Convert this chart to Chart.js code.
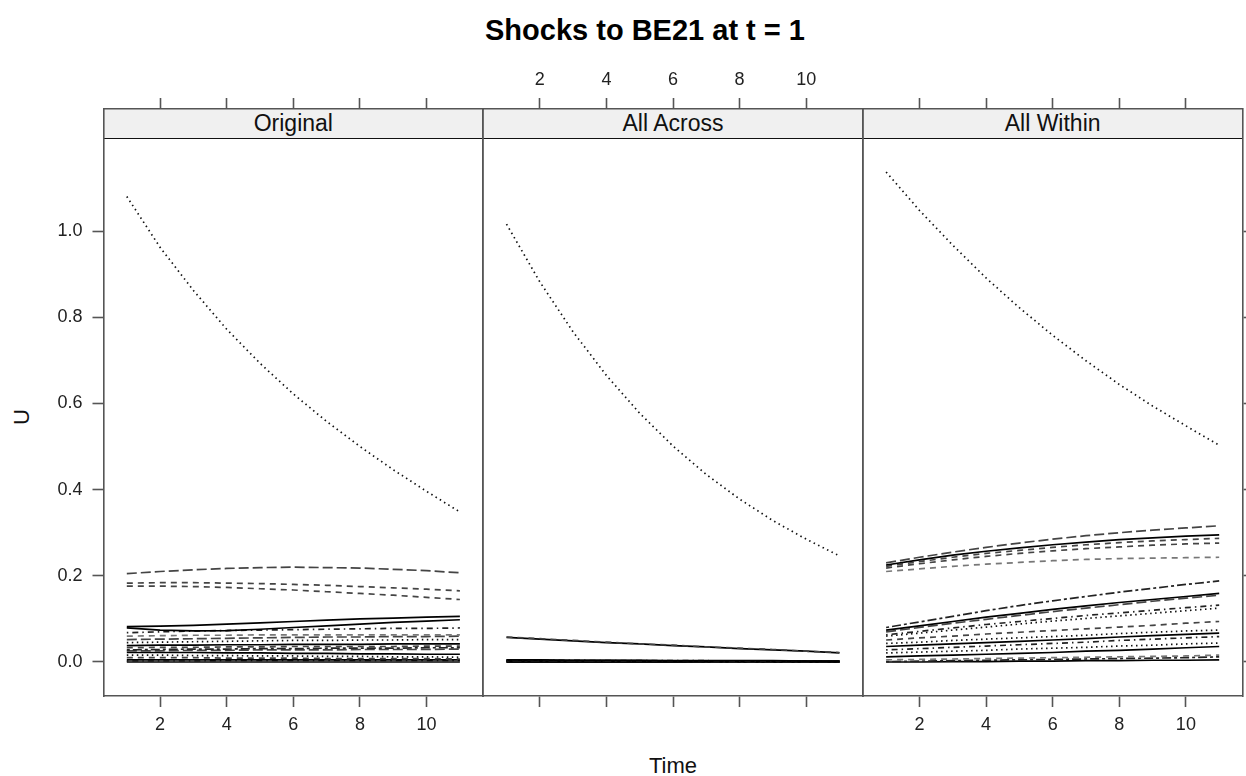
<!DOCTYPE html>
<html><head><meta charset="utf-8">
<script src="https://cdn.jsdelivr.net/npm/chart.js@4.4.0/dist/chart.umd.min.js"></script>
<style>
html,body{margin:0;padding:0;background:#fff;}
#wrap{position:relative;width:1246px;height:776px;overflow:hidden;font-family:"Liberation Sans",Arial,Helvetica,sans-serif;}
canvas{position:absolute;left:0;top:0;}
.strip{position:absolute;top:109px;height:30px;background:#f0f0f0;border-bottom:1.5px solid #111;box-sizing:border-box;text-align:center;font-size:23px;line-height:29px;color:#111;}
.txt{position:absolute;color:#111;text-align:center;white-space:nowrap;}
</style></head>
<body><div id="wrap">
<div class="txt" id="title" style="left:345px;width:600px;top:14px;font-size:29px;line-height:32px;font-weight:bold;color:#000;">Shocks to BE21 at t = 1</div>
<div class="strip" id="s0"></div><div class="strip" id="s1"></div><div class="strip" id="s2"></div>
<div class="txt" id="xlab" style="left:573px;width:200px;top:753px;font-size:22px;line-height:26px;">Time</div>
<div class="txt" id="ylab" style="left:2px;width:40px;top:404px;font-size:22px;line-height:26px;transform:rotate(-90deg);">U</div>
<canvas id="c0" width="1246" height="776"></canvas>
<canvas id="c1" width="1246" height="776"></canvas>
<canvas id="c2" width="1246" height="776"></canvas>
</div>
<script>
// ---------------- data ----------------
const timeSteps = [1,2,3,4,5,6,7,8,9,10,11];
const panelNames = ['Original','All Across','All Within'];
const xTicks = [2,4,6,8,10];
const yTicks = [0,0.2,0.4,0.6,0.8,1.0];

const originalSeries = [
  [1.080,0.962,0.862,0.772,0.693,0.622,0.558,0.500,0.446,0.396,0.348],
  [0.205,0.210,0.214,0.217,0.219,0.220,0.219,0.218,0.215,0.212,0.207],
  [0.183,0.184,0.184,0.183,0.182,0.180,0.178,0.175,0.172,0.169,0.165],
  [0.176,0.176,0.175,0.173,0.170,0.167,0.163,0.159,0.155,0.150,0.145],
  [0.082,0.083,0.085,0.088,0.091,0.094,0.097,0.100,0.102,0.104,0.106],
  [0.079,0.074,0.072,0.073,0.076,0.080,0.084,0.088,0.092,0.095,0.098],
  [0.068,0.070,0.072,0.073,0.074,0.075,0.076,0.077,0.078,0.078,0.079],
  [0.060,0.061,0.062,0.062,0.063,0.063,0.063,0.063,0.063,0.063,0.063],
  [0.052,0.053,0.054,0.055,0.056,0.057,0.058,0.058,0.059,0.059,0.060],
  [0.045,0.046,0.047,0.048,0.049,0.050,0.050,0.051,0.051,0.052,0.052],
  [0.038,0.039,0.039,0.040,0.040,0.041,0.041,0.041,0.042,0.042,0.042],
  [0.033,0.034,0.034,0.035,0.035,0.036,0.036,0.036,0.036,0.037,0.037],
  [0.028,0.029,0.030,0.030,0.031,0.031,0.032,0.032,0.032,0.033,0.033],
  [0.026,0.026,0.027,0.027,0.028,0.028,0.028,0.029,0.029,0.029,0.030],
  [0.022,0.022,0.022,0.021,0.021,0.020,0.020,0.019,0.019,0.018,0.018],
  [0.016,0.016,0.015,0.015,0.014,0.014,0.013,0.013,0.012,0.012,0.011],
  [0.010,0.010,0.010,0.009,0.009,0.009,0.008,0.008,0.008,0.008,0.007],
  [0.005,0.005,0.005,0.005,0.005,0.005,0.005,0.005,0.005,0.005,0.005],
  [0.002,0.002,0.002,0.003,0.003,0.003,0.003,0.003,0.003,0.003,0.003],
  [0.000,0.000,0.000,0.000,0.000,0.000,0.000,0.000,0.000,0.000,0.000]
];
const originalStyle = [2,4,1,1,0,0,3,6,4,2,0,1,5,4,0,2,1,0,3,0];

const allAcrossSeries = [
  [1.016,0.882,0.766,0.665,0.577,0.501,0.435,0.378,0.328,0.285,0.246],
  [0.058,0.054,0.050,0.046,0.042,0.039,0.035,0.032,0.029,0.025,0.022],
  [0.057,0.053,0.049,0.045,0.042,0.038,0.035,0.031,0.028,0.025,0.021],
  [0.005,0.005,0.004,0.004,0.004,0.003,0.003,0.003,0.003,0.002,0.002],
  [0.004,0.004,0.004,0.003,0.003,0.003,0.003,0.002,0.002,0.002,0.002],
  [0.003,0.003,0.003,0.003,0.002,0.002,0.002,0.002,0.002,0.002,0.001],
  [0.002,0.002,0.002,0.002,0.002,0.002,0.001,0.001,0.001,0.001,0.001],
  [0.001,0.001,0.001,0.001,0.001,0.001,0.001,0.001,0.001,0.001,0.001],
  [0.000,0.000,0.000,0.000,0.000,0.000,0.000,0.000,0.000,0.000,0.000],
  [0.002,0.002,0.002,0.001,0.001,0.001,0.001,0.001,0.001,0.001,0.001],
  [0.003,0.003,0.002,0.002,0.002,0.002,0.002,0.002,0.001,0.001,0.001],
  [0.001,0.001,0.001,0.000,0.000,0.000,0.000,0.000,0.000,0.000,0.000],
  [0.004,0.003,0.003,0.003,0.003,0.002,0.002,0.002,0.002,0.002,0.002],
  [0.000,0.000,0.000,0.000,0.000,0.000,0.000,0.000,0.000,0.000,0.000]
];
const allAcrossStyle = [2,1,0,0,3,0,5,0,0,1,0,4,0,0];

const allWithinSeries = [
  [1.137,1.048,0.967,0.891,0.822,0.758,0.699,0.644,0.594,0.548,0.503],
  [0.230,0.243,0.255,0.266,0.276,0.285,0.293,0.300,0.306,0.311,0.316],
  [0.225,0.237,0.248,0.257,0.265,0.272,0.278,0.284,0.288,0.292,0.295],
  [0.222,0.233,0.243,0.252,0.259,0.266,0.272,0.277,0.281,0.284,0.287],
  [0.218,0.228,0.237,0.245,0.252,0.258,0.263,0.267,0.271,0.274,0.276],
  [0.210,0.216,0.222,0.227,0.231,0.235,0.238,0.240,0.241,0.242,0.243],
  [0.080,0.093,0.106,0.119,0.131,0.142,0.152,0.162,0.171,0.180,0.188],
  [0.074,0.084,0.094,0.104,0.113,0.122,0.130,0.138,0.145,0.152,0.159],
  [0.070,0.080,0.090,0.099,0.108,0.117,0.125,0.133,0.141,0.148,0.155],
  [0.063,0.071,0.079,0.087,0.094,0.101,0.108,0.114,0.120,0.126,0.132],
  [0.060,0.067,0.074,0.081,0.088,0.095,0.101,0.107,0.113,0.119,0.125],
  [0.051,0.056,0.060,0.065,0.069,0.073,0.077,0.081,0.085,0.090,0.094],
  [0.043,0.046,0.050,0.053,0.056,0.059,0.062,0.066,0.069,0.072,0.074],
  [0.036,0.039,0.042,0.045,0.048,0.051,0.054,0.058,0.061,0.064,0.067],
  [0.028,0.031,0.034,0.037,0.040,0.043,0.046,0.050,0.053,0.056,0.059],
  [0.021,0.023,0.025,0.027,0.030,0.032,0.034,0.037,0.039,0.042,0.044],
  [0.012,0.014,0.016,0.018,0.020,0.022,0.025,0.027,0.030,0.033,0.036],
  [0.005,0.006,0.007,0.008,0.009,0.010,0.011,0.012,0.013,0.014,0.016],
  [0.001,0.002,0.003,0.004,0.005,0.006,0.007,0.008,0.009,0.010,0.012],
  [0.000,0.000,0.001,0.001,0.002,0.002,0.003,0.003,0.004,0.004,0.005]
];
const allWithinStyle = [2,4,0,1,1,6,5,0,4,3,2,1,2,0,3,2,0,6,5,0];

// ---------------- styling ----------------
const lineStyles = [
  {color:'#000', dash:[]},             // solid
  {color:'#444', dash:[6,5]},          // dashed
  {color:'#111', dash:[1.5,3.5]},      // dotted
  {color:'#222', dash:[1.5,4,6,4]},    // dot-dash
  {color:'#444', dash:[10,4]},         // long dash
  {color:'#222', dash:[3,3,9,3]},      // two-dash
  {color:'#777', dash:[6,5]}           // light dashed
];
const panelEdges = [103.5, 483.2, 862.8, 1242.5];
const plotTop = 109, plotBottom = 696;
const yMin = -0.0789, yMax = 1.2831;
const FONT = '"Liberation Sans", Arial, Helvetica, sans-serif';
const AX = '#555';
const TL = 11;

// strips
panelNames.forEach((n,i)=>{
  const d = document.getElementById('s'+i);
  d.style.left = panelEdges[i]+'px';
  d.style.width = (panelEdges[i+1]-panelEdges[i])+'px';
  d.textContent = n;
});

function xScale(pos, labels){
  return {
    type:'linear', position:pos, min:0.3, max:11.7,
    afterBuildTicks: s => { s.ticks = xTicks.map(v=>({value:v})); },
    afterFit: s => { s.height = 50; },
    ticks:{display:labels, autoSkip:false, maxRotation:0, padding:7, color:'#222',
           font:{family:FONT, size:18}, callback:v=>String(v)},
    grid:{drawOnChartArea:false, drawTicks:true, tickLength:TL, tickColor:AX, tickWidth:1.6},
    border:{display:true, color:AX, width:1.6}
  };
}
function yScale(pos, labels, ticksOn, w){
  return {
    type:'linear', position:pos, min:yMin, max:yMax,
    afterBuildTicks: s => { s.ticks = yTicks.map(v=>({value:v})); },
    afterFit: s => { s.width = w; },
    ticks:{display:labels, padding:10, color:'#222', font:{family:FONT, size:18}, callback:v=>v.toFixed(1)},
    grid:{drawOnChartArea:false, drawTicks:ticksOn, tickLength:TL, tickColor:AX, tickWidth:1.6},
    border:{display:true, color:AX, width:1.6}
  };
}

function makePanel(i, series, styleIdx, cfg){
  const ctx = document.getElementById('c'+i);
  const left = panelEdges[i], right = panelEdges[i+1];
  new Chart(ctx, {
    type:'line',
    data:{datasets: series.map((vals,k)=>({
      data: vals.map((v,j)=>({x:timeSteps[j], y:v})),
      xAxisID:'x', yAxisID:'y',
      borderColor: lineStyles[styleIdx[k]].color,
      borderDash: lineStyles[styleIdx[k]].dash,
      borderWidth:1.7, pointRadius:0, fill:false, tension:0
    }))},
    options:{
      responsive:false, animation:false, devicePixelRatio:1,
      layout:{padding:{left:left-70, right:1246-right-3, top:plotTop-50, bottom:776-plotBottom-50}},
      plugins:{legend:{display:false}, tooltip:{enabled:false}, title:{display:false}},
      scales:{
        x: xScale('bottom', cfg.bottomLabels),
        x2: xScale('top', cfg.topLabels),
        y: yScale('left', cfg.leftLabels, cfg.leftTicks, 70),
        y2: yScale('right', false, cfg.rightTicks, 3)
      }
    }
  });
}

makePanel(0, originalSeries, originalStyle, {bottomLabels:true, topLabels:false, leftLabels:true, leftTicks:true, rightTicks:false});
makePanel(1, allAcrossSeries, allAcrossStyle, {bottomLabels:false, topLabels:true, leftLabels:false, leftTicks:false, rightTicks:false});
makePanel(2, allWithinSeries, allWithinStyle, {bottomLabels:true, topLabels:false, leftLabels:false, leftTicks:false, rightTicks:true});
</script>
</body></html>
